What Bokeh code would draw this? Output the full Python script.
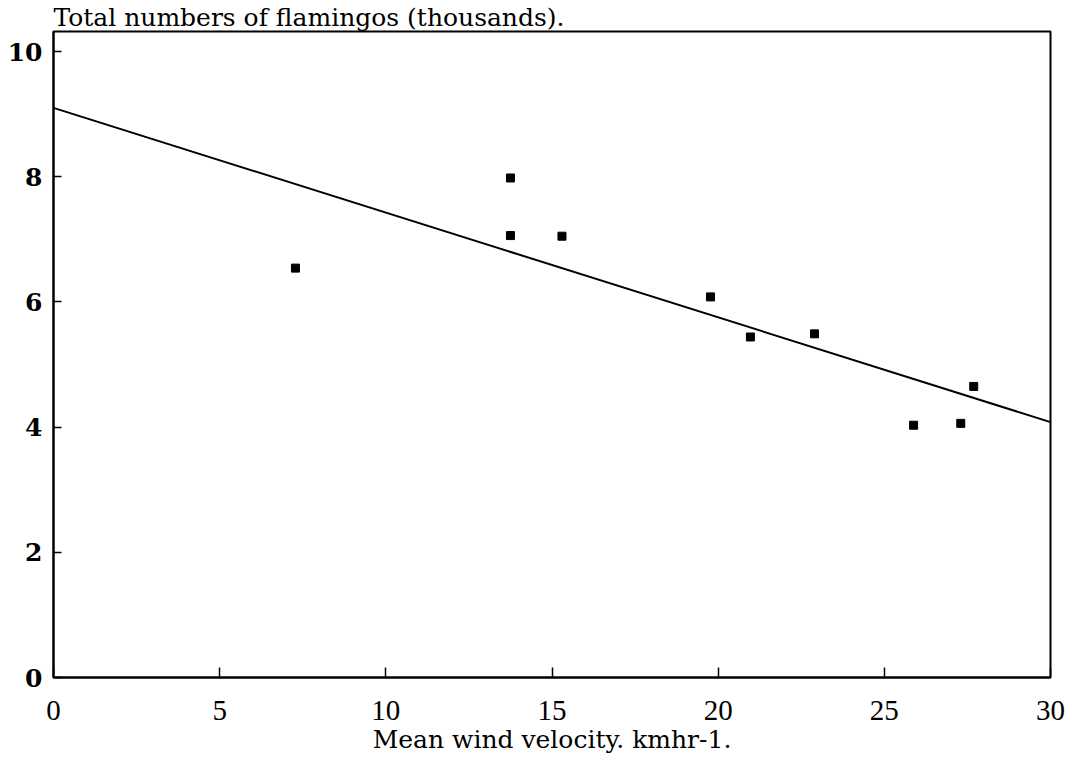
from bokeh.plotting import figure
from bokeh.models import Range1d, FixedTicker, Title
from bokeh.embed import file_html
from bokeh.resources import INLINE

# Mean wind velocity (km/h) and total flamingo counts (thousands)
wind_speed = [7.28, 13.75, 13.75, 15.3, 19.77, 20.97, 22.9, 25.88, 27.3, 27.69]
flamingos = [6.54, 7.98, 7.06, 7.05, 6.08, 5.44, 5.49, 4.03, 4.06, 4.65]

# Fitted regression line, evaluated at the ends of the wind axis
fit_x = [0, 30]
fit_y = [9.10, 4.08]

x_ticks = [0, 5, 10, 15, 20, 25, 30]
y_ticks = [0, 2, 4, 6, 8, 10]

p = figure(
    width=1076, height=760,
    output_backend="svg", toolbar_location=None,
    x_range=Range1d(0, 30), y_range=Range1d(0, 10.32),
    min_border_left=53, min_border_right=26,
    min_border_top=26, min_border_bottom=83,
)
p.background_fill_color = "white"
p.border_fill_color = "white"
p.outline_line_color = "black"
p.outline_line_width = 2
p.xgrid.visible = False
p.ygrid.visible = False

p.title = Title(
    text="Total numbers of flamingos (thousands).",
    text_font="DejaVu Serif", text_font_size="25px", text_font_style="normal",
    text_color="black", text_line_height=0.8,
    align="left", standoff=0, offset=0,
)

# x axis
p.xaxis.ticker = FixedTicker(ticks=x_ticks)
p.xaxis.axis_label = "Mean wind velocity. kmhr-1."
p.xaxis.axis_label_text_font = "DejaVu Serif"
p.xaxis.axis_label_text_font_size = "25px"
p.xaxis.axis_label_text_font_style = "normal"
p.xaxis.axis_label_text_color = "black"
p.xaxis.axis_label_standoff = 2
p.xaxis.major_label_text_font = "Liberation Serif"
p.xaxis.major_label_text_font_size = "29px"
p.xaxis.major_label_text_color = "black"
p.xaxis.major_label_standoff = 23
p.xaxis.major_tick_in = 10
p.xaxis.major_tick_out = 0
p.xaxis.minor_tick_in = 0
p.xaxis.minor_tick_out = 0
p.xaxis.axis_line_width = 2
p.xaxis.major_tick_line_width = 1.5

# y axis
p.yaxis.ticker = FixedTicker(ticks=y_ticks)
p.yaxis.major_label_text_font = "DejaVu Serif"
p.yaxis.major_label_text_font_size = "25px"
p.yaxis.major_label_text_font_style = "bold"
p.yaxis.major_label_text_color = "black"
p.yaxis.major_label_standoff = 11
p.yaxis.major_tick_in = 8
p.yaxis.major_tick_out = 0
p.yaxis.minor_tick_in = 0
p.yaxis.minor_tick_out = 0
p.yaxis.axis_line_width = 2
p.yaxis.major_tick_line_width = 1.5

p.line(fit_x, fit_y, line_color="black", line_width=2)
p.scatter(wind_speed, flamingos, marker="square", size=8,
          fill_color="black", line_color="black")

open("out.html", "w").write(file_html(p, INLINE))
